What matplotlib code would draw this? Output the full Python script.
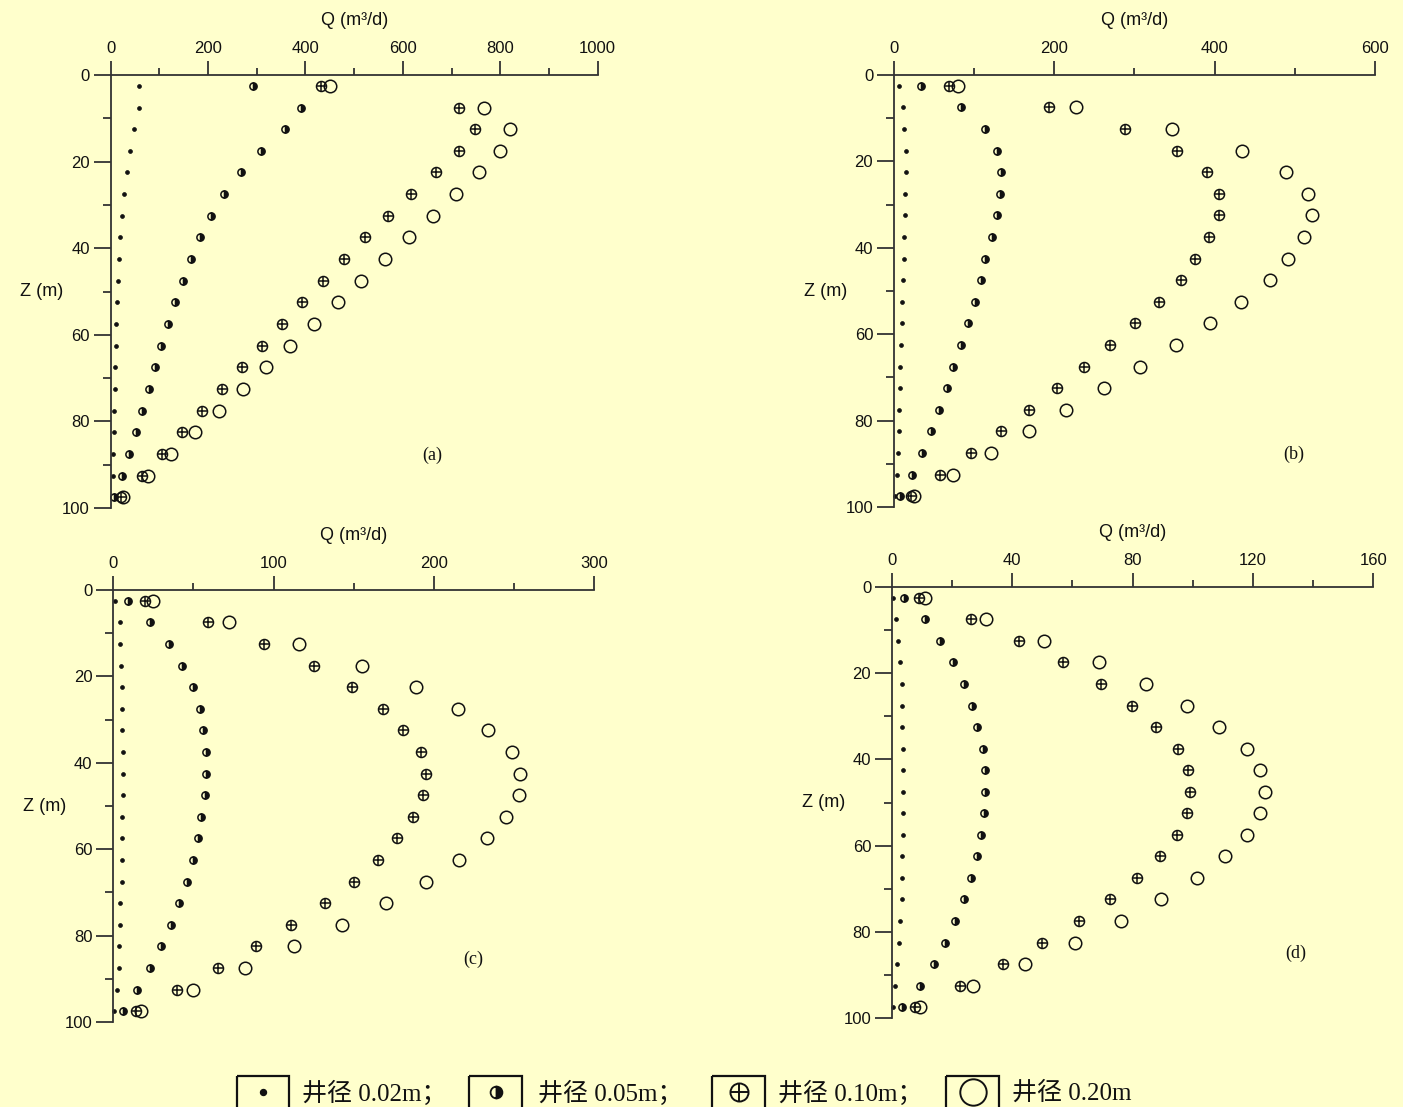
import matplotlib
matplotlib.use("Agg")
import matplotlib.pyplot as plt
from matplotlib.patches import Rectangle
from matplotlib.ticker import MultipleLocator

# ---------------- data ----------------
depth = [2.5, 7.5, 12.5, 17.5, 22.5, 27.5, 32.5, 37.5, 42.5, 47.5,
         52.5, 57.5, 62.5, 67.5, 72.5, 77.5, 82.5, 87.5, 92.5, 97.5]

a_002 = [59, 59, 48, 40, 33, 27, 24, 20, 17, 14, 12, 11, 10, 8, 8, 7, 6, 5, 4, 2]
a_005 = [293, 391, 358, 309, 267, 233, 206, 183, 164, 148, 132, 117, 103, 90, 78, 65, 51, 38, 24, 6]
a_010 = [432, 715, 749, 715, 667, 617, 570, 523, 480, 436, 393, 352, 310, 269, 229, 188, 147, 105, 64, 22]
a_020 = [451, 766, 820, 799, 757, 710, 662, 613, 564, 515, 466, 417, 368, 319, 271, 222, 173, 124, 76, 26]

b_002 = [6, 11, 13, 15, 15, 14, 14, 13, 12, 11, 10.5, 9.5, 8.5, 8, 7.5, 6.5, 6, 5.5, 4, 1.5]
b_005 = [34, 84, 113, 128, 133, 132, 128, 122, 114, 109, 101, 92, 83, 74, 66, 56, 46, 35, 22, 8]
b_010 = [69, 193, 288, 353, 390, 405, 405, 393, 375, 358, 330, 301, 270, 237, 203, 168, 133, 96, 58, 21]
b_020 = [80, 227, 347, 434, 489, 516, 522, 512, 491, 469, 433, 394, 352, 307, 262, 215, 168, 121, 73, 25]

c_002 = [1.2, 4, 4.2, 4.6, 5.2, 5.4, 5.6, 5.8, 5.8, 5.8, 5.7, 5.5, 5.3, 5.1, 4.4, 4.1, 3.7, 3.6, 2.1, 0.6]
c_005 = [9, 23, 35, 43, 50, 54, 56, 58, 58, 57, 55, 53, 50, 46, 41, 36, 30, 23, 15, 6]
c_010 = [20, 59, 94, 125, 149, 168, 181, 192, 195, 193, 187, 177, 165, 150, 132, 111, 89, 65, 40, 14]
c_020 = [25, 72, 116, 155, 189, 215, 234, 249, 254, 253, 245, 233, 216, 195, 170, 143, 113, 82, 50, 17]

d_002 = [0.2, 1.2, 2, 2.7, 3.3, 3.3, 3.4, 3.6, 3.7, 3.7, 3.7, 3.5, 3.3, 3.3, 3.2, 2.8, 2.2, 1.6, 0.9, 0.3]
d_005 = [3.9, 11, 16, 20.4, 23.8, 26.6, 28.4, 30.1, 30.9, 30.9, 30.6, 29.6, 28.1, 26.3, 23.9, 21, 17.7, 13.9, 9.4, 3.4]
d_010 = [9, 26.3, 42.3, 56.7, 69.4, 79.8, 87.8, 95, 98.4, 99.2, 98.2, 94.8, 89.1, 81.6, 72.6, 62, 50, 36.8, 22.6, 7.7]
d_020 = [10.9, 31.2, 50.5, 68.7, 84.6, 98, 108.7, 118.1, 122.5, 124, 122.5, 118.1, 110.8, 101.3, 89.5, 76, 60.7, 44.2, 27, 9.3]

panel_labels = ["(a)", "(b)", "(c)", "(d)"]
x_max = [1000, 600, 300, 160]
x_major = [200, 200, 100, 40]
legend_labels = ["井径 0.02m；", "井径 0.05m；", "井径 0.10m；", "井径 0.20m"]

# ---------------- style ----------------
BG = "#FFFFCC"
INK = "#111111"
AX = "#333333"
plt.rcParams["font.family"] = ["Liberation Sans", "DejaVu Sans"]

fig = plt.figure(figsize=(14.03, 11.07), dpi=100, facecolor=BG)

positions = [
    [0.0789, 0.5411, 0.3471, 0.3911],
    [0.6372, 0.5420, 0.3428, 0.3902],
    [0.0808, 0.0768, 0.3426, 0.3902],
    [0.6358, 0.0804, 0.3430, 0.3893],
]
label_pos = [(0.66, 0.122), (0.832, 0.122), (0.748, 0.146), (0.839, 0.149)]

series = [
    (a_002, a_005, a_010, a_020),
    (b_002, b_005, b_010, b_020),
    (c_002, c_005, c_010, c_020),
    (d_002, d_005, d_010, d_020),
]

ms_dot, ms_half, ms_cross, ms_open = 2.8, 5.2, 7.2, 9.0
lw_m = 1.1

for i, (pos, (s1, s2, s3, s4)) in enumerate(zip(positions, series)):
    ax = fig.add_axes(pos)
    ax.set_facecolor("none")
    # 0.02 m
    ax.plot(s1, depth, ls="none", marker="o", ms=ms_dot, mfc=INK, mec=INK, mew=0.5, clip_on=False)
    # 0.05 m half-filled
    ax.plot(s2, depth, ls="none", marker="o", ms=ms_half, fillstyle="right",
            mfc=INK, mfcalt=BG, mec=INK, mew=lw_m, clip_on=False)
    # 0.10 m circle with plus
    ax.plot(s3, depth, ls="none", marker="o", ms=ms_cross, mfc="none", mec=INK, mew=lw_m, clip_on=False)
    ax.plot(s3, depth, ls="none", marker="+", ms=ms_cross, mec=INK, mew=lw_m, clip_on=False)
    # 0.20 m open circle
    ax.plot(s4, depth, ls="none", marker="o", ms=ms_open, mfc="none", mec=INK, mew=lw_m, clip_on=False)

    ax.set_xlim(0, x_max[i])
    ax.set_ylim(100, 0)
    for side in ["right", "bottom"]:
        ax.spines[side].set_visible(False)
    for side in ["top", "left"]:
        ax.spines[side].set_color(AX)
        ax.spines[side].set_linewidth(1.3)

    ax.xaxis.tick_top()
    ax.xaxis.set_major_locator(MultipleLocator(x_major[i]))
    ax.xaxis.set_minor_locator(MultipleLocator(x_major[i] / 2))
    ax.yaxis.set_major_locator(MultipleLocator(20))
    ax.yaxis.set_minor_locator(MultipleLocator(10))
    ax.tick_params(axis="x", which="major", direction="out", length=10, width=1.3,
                   color=AX, labelsize=12, pad=4, labelcolor=INK)
    ax.tick_params(axis="x", which="minor", direction="out", length=5, width=1.3, color=AX)
    ax.tick_params(axis="y", which="major", direction="out", length=12, width=1.3,
                   color=AX, labelsize=12, pad=3, labelcolor=INK)
    ax.tick_params(axis="y", which="minor", direction="out", length=6, width=1.3, color=AX)

    ax.xaxis.set_label_position("top")
    ax.set_xlabel("Q (m³/d)", fontsize=13, color=INK)
    ax.xaxis.set_label_coords(0.5, 1.115)
    ax.set_ylabel("Z (m)", fontsize=13, rotation=0, color=INK, va="center", ha="center")
    ax.yaxis.set_label_coords(-0.142, 0.5)

    ax.text(label_pos[i][0], label_pos[i][1], panel_labels[i], transform=ax.transAxes,
            fontsize=13, family="Liberation Serif", ha="center", va="center", color=INK)

# ---------------- legend (boxed symbols) ----------------
lax = fig.add_axes([0, 0, 1, 1])
lax.set_xlim(0, 1403)
lax.set_ylim(1107, 0)
lax.axis("off")
lax.set_facecolor("none")

boxes = [(237, 289), (469, 522), (712, 765), (946, 999)]
text_x = [302, 538, 778, 1012]
yc = 1092
for k, (x0, x1) in enumerate(boxes):
    lax.add_patch(Rectangle((x0, 1076), x1 - x0, 40, fill=False, ec=INK, lw=1.6, clip_on=False))
    cx = (x0 + x1) / 2
    if k == 0:
        lax.plot([cx], [yc], marker="o", ms=4.3, mfc=INK, mec=INK, ls="none")
    elif k == 1:
        lax.plot([cx], [yc], marker="o", ms=8.5, fillstyle="right", mfc=INK, mfcalt=BG,
                 mec=INK, mew=1.3, ls="none")
    elif k == 2:
        lax.plot([cx], [yc], marker="o", ms=13, mfc="none", mec=INK, mew=1.4, ls="none")
        lax.plot([cx], [yc], marker="+", ms=13, mec=INK, mew=1.4, ls="none")
    else:
        lax.plot([cx], [yc], marker="o", ms=19, mfc="none", mec=INK, mew=1.4, ls="none")
    lax.text(text_x[k], yc + 1, legend_labels[k], fontsize=18, ha="left", va="center",
             family=["Liberation Serif", "Noto Sans CJK SC"], color=INK)

fig.savefig("out.png", dpi=100, facecolor=BG)
